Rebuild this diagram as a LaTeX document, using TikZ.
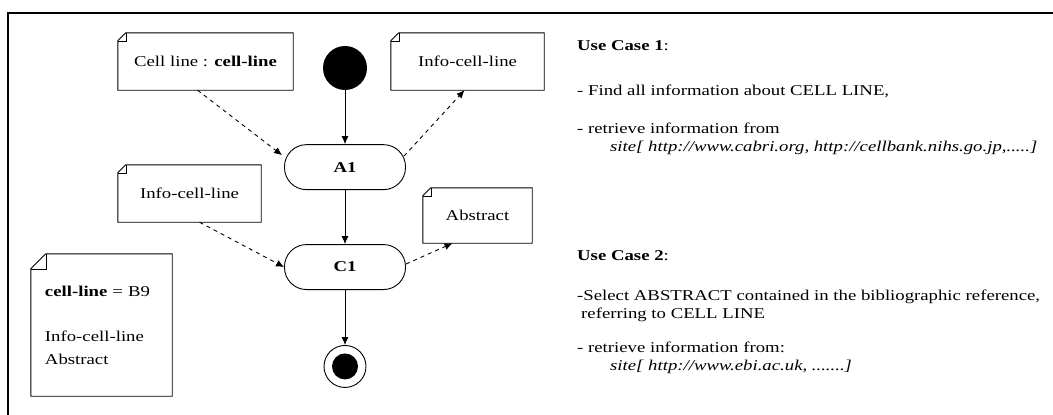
\documentclass[tikz,border=0pt]{standalone}
\usepackage{fontspec}
\setmainfont{Liberation Serif}[FakeStretch=1.25]
\usetikzlibrary{positioning, arrows.meta, calc}

% note outline with folded top-left corner
\newcommand{\notebox}[2]{%
  \draw[line width=0.9pt] ($(#1.north west)+(0,#2)$) -- ($(#1.north west)+(#2,0)$)
    -- (#1.north east) -- (#1.south east) -- (#1.south west) -- cycle;
  \draw[line width=0.6pt] ($(#1.north west)+(0,#2)$) -- ($(#1.north west)+(#2,#2)$)
    -- ($(#1.north west)+(#2,0)$);
}

\begin{document}
\begin{tikzpicture}[
    x=1pt, y=-1pt,
    font=\fontsize{15}{18}\selectfont,
    note/.style={
        minimum height=57pt,
        inner sep=0pt,
        align=center
    },
    activity/.style={
        draw,
        rectangle,
        rounded corners=22pt,
        line width=0.9pt,
        minimum width=121pt,
        minimum height=45pt,
        font=\fontsize{15}{18}\selectfont\bfseries
    },
    arrow/.style={line width=0.9pt, -{Latex[length=8pt, width=7pt]}},
    flow/.style={line width=0.9pt, dash pattern=on 4pt off 4pt, -{Latex[length=8pt, width=7pt]}}
]
\useasboundingbox (0,0) rectangle (1053,415);

% frame
\draw[line width=1.5pt] (8,415) -- (8,13) -- (1053,13);

% Activity flow
\node[circle, fill, minimum size=44pt, inner sep=0pt] (start) at (345,68) {};

\node[activity, below=54pt of start] (A1) {A1};

\node[activity, below=54pt of A1] (C1) {C1};

\node[circle, draw, line width=0.9pt, minimum size=42pt, inner sep=0pt, below=55pt of C1] (end) {};
\node[circle, fill, minimum size=26pt, inner sep=0pt] (enddot) at (end) {};

% Notes
\node[note, minimum width=175pt] (cellnote) at (205.5,61.5) {Cell line : \textbf{cell-line}};
\node[note, minimum width=153pt] (infotop) at (467.5,61.5) {Info-cell-line};
\node[note, minimum width=143pt] (infoleft) at (189.5,193.5) {Info-cell-line};
\node[note, minimum width=109pt, minimum height=55pt] (abstract) at (477.5,215.5) {Abstract};
\node[note, minimum width=141pt, minimum height=142pt, align=left, text width=113pt,
      inner xsep=14pt, font=\fontsize{15}{23}\selectfont] (b9) at (101.5,325)
      {\textbf{cell-line} = B9\\[22pt]Info-cell-line\\Abstract};

\notebox{cellnote}{8}
\notebox{infotop}{8}
\notebox{infoleft}{8}
\notebox{abstract}{8}
\notebox{b9}{15}

% Main arrows
\draw[arrow] (start) -- (A1);
\draw[arrow] (A1) -- (C1);
\draw[arrow] (C1) -- (end);

% Object flows
\draw[flow] ($(cellnote.south)+(-8,0)$) -- ($(A1.west)+(-2,-12)$);
\draw[flow] ($(A1.east)+(-2,-11)$) -- ($(infotop.south)+(-3,0)$);
\draw[flow] ($(infoleft.south)+(10,0)$) -- (C1.west);
\draw[flow] ($(C1.east)+(0,-3)$) -- ($(abstract.south)+(-25,0)$);

% Use cases
\node[anchor=north west, align=left, inner sep=0pt] (uc1) at (577,40)
    {\textbf{Use Case 1}:\\[27pt]
     - Find all information about CELL LINE,\\[20pt]
     - retrieve information from\\
     \hspace*{33pt}\textit{site[ http://www.cabri.org, http://cellbank.nihs.go.jp,.....]}};

\node[anchor=north west, align=left, inner sep=0pt] (uc2) at (577,250)
    {\textbf{Use Case 2}:\\[22pt]
     -Select ABSTRACT contained in the bibliographic reference,\\
     \hspace*{4pt}referring to CELL LINE\\[16pt]
     - retrieve information from:\\
     \hspace*{33pt}\textit{site[ http://www.ebi.ac.uk, .......]}};

\end{tikzpicture}
\end{document}
